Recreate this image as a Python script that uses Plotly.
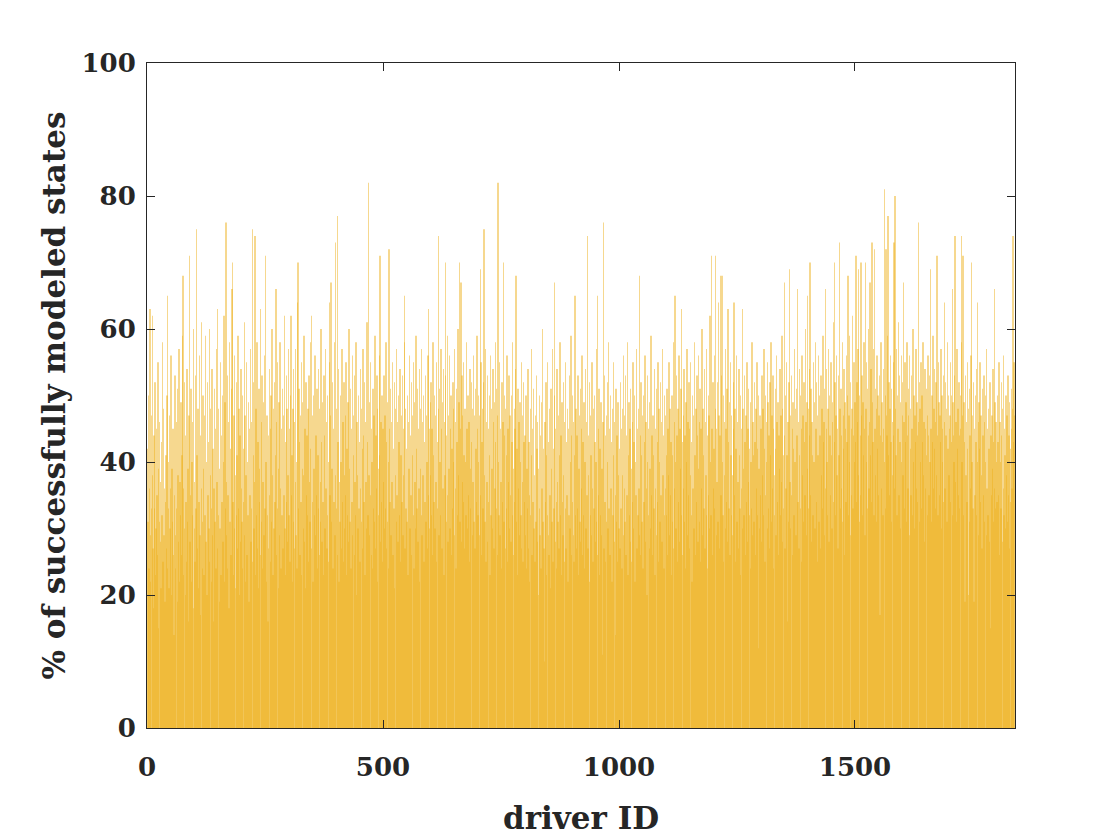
import plotly.graph_objects as go

# % of successfully modeled states, one value per driver (blocks of 100 drivers)
pct_0001_0100 = [42, 31, 50, 24, 36, 63, 29, 22, 47, 33, 38, 62, 27, 18, 44, 33, 52, 23, 30, 45,
                 35, 26, 55, 39, 15, 31, 46, 28, 37, 21, 43, 32, 58, 25, 48, 29, 36, 19, 34, 41,
                 27, 50, 65, 24, 33, 40, 21, 47, 30, 36, 56, 20, 39, 31, 45, 26, 14, 35, 53, 29,
                 24, 46, 33, 51, 19, 38, 28, 57, 22, 37, 32, 49, 26, 41, 59, 68, 23, 36, 30, 52,
                 20, 44, 34, 25, 54, 31, 39, 16, 47, 71, 28, 35, 51, 22, 40, 32, 46, 18, 60, 30]
pct_0101_0200 = [37, 25, 53, 33, 75, 41, 27, 48, 21, 34, 56, 29, 44, 17, 36, 61, 31, 24, 50, 39,
                 23, 47, 32, 59, 28, 40, 20, 52, 35, 43, 30, 60, 25, 38, 48, 22, 33, 54, 29, 42,
                 16, 36, 51, 31, 45, 24, 57, 37, 27, 63, 32, 48, 19, 39, 30, 55, 23, 44, 34, 50,
                 28, 40, 62, 22, 49, 33, 76, 29, 37, 24, 53, 35, 46, 18, 58, 31, 42, 26, 51, 66,
                 70, 34, 23, 47, 30, 56, 38, 21, 52, 32, 41, 27, 59, 33, 48, 20, 44, 28, 54, 36]
pct_0201_0300 = [31, 50, 24, 42, 34, 61, 29, 47, 22, 38, 55, 26, 40, 32, 49, 19, 45, 35, 57, 28,
                 46, 33, 75, 25, 41, 52, 30, 37, 74, 23, 48, 32, 58, 27, 43, 21, 51, 34, 39, 63,
                 26, 46, 31, 53, 24, 37, 49, 29, 56, 33, 71, 40, 22, 47, 32, 16, 44, 27, 54, 35,
                 45, 25, 50, 31, 60, 38, 23, 48, 30, 52, 34, 41, 66, 26, 46, 33, 55, 21, 39, 49,
                 29, 58, 36, 24, 45, 32, 51, 27, 47, 35, 62, 30, 43, 23, 53, 34, 48, 28, 38, 57]
pct_0301_0400 = [32, 45, 25, 50, 62, 35, 41, 22, 48, 31, 54, 27, 46, 37, 57, 29, 40, 24, 64, 70,
                 33, 51, 43, 26, 47, 34, 55, 23, 39, 49, 30, 38, 59, 28, 45, 21, 52, 35, 44, 32,
                 48, 25, 53, 37, 31, 58, 42, 27, 62, 34, 47, 22, 50, 39, 32, 56, 29, 44, 35, 51,
                 24, 41, 33, 54, 26, 48, 37, 31, 60, 43, 28, 49, 34, 23, 53, 44, 30, 57, 36, 46,
                 27, 50, 32, 40, 25, 55, 64, 35, 47, 67, 31, 39, 52, 24, 45, 34, 58, 29, 38, 73]
pct_0401_0500 = [33, 48, 77, 26, 43, 54, 22, 37, 31, 50, 40, 27, 57, 34, 46, 25, 52, 38, 30, 47,
                 35, 55, 23, 42, 32, 49, 28, 60, 39, 31, 51, 24, 45, 34, 56, 29, 41, 47, 26, 53,
                 37, 32, 58, 20, 46, 38, 30, 50, 33, 43, 25, 54, 36, 48, 31, 42, 27, 57, 44, 34,
                 52, 23, 46, 37, 30, 61, 43, 32, 82, 38, 29, 49, 35, 55, 26, 45, 40, 24, 51, 33,
                 47, 31, 59, 27, 44, 36, 53, 22, 48, 39, 32, 56, 41, 71, 28, 46, 34, 50, 25, 45]
pct_0501_0600 = [37, 53, 30, 47, 33, 58, 27, 43, 49, 31, 40, 24, 72, 45, 34, 51, 29, 46, 37, 55,
                 26, 42, 33, 52, 21, 48, 38, 31, 57, 35, 46, 28, 50, 43, 32, 54, 25, 41, 47, 34,
                 53, 29, 45, 38, 58, 65, 27, 48, 33, 42, 31, 50, 23, 46, 39, 56, 30, 44, 35, 52,
                 26, 47, 41, 32, 55, 24, 49, 37, 30, 59, 42, 33, 51, 28, 45, 36, 54, 22, 48, 39,
                 32, 57, 29, 46, 38, 50, 25, 43, 34, 53, 31, 47, 40, 27, 56, 63, 35, 45, 30, 49]
pct_0601_0700 = [38, 52, 32, 45, 26, 58, 41, 34, 50, 30, 47, 37, 55, 25, 43, 33, 74, 48, 29, 51,
                 40, 32, 57, 45, 27, 49, 36, 54, 23, 46, 38, 53, 70, 31, 44, 35, 59, 28, 47, 39,
                 56, 30, 45, 50, 26, 42, 33, 52, 40, 48, 29, 57, 36, 46, 24, 51, 43, 32, 60, 38,
                 49, 70, 31, 45, 67, 28, 53, 37, 47, 34, 55, 41, 27, 48, 40, 32, 58, 45, 30, 50,
                 35, 46, 25, 54, 39, 33, 52, 43, 29, 48, 37, 56, 31, 47, 27, 51, 42, 34, 59, 45]
pct_0701_0800 = [32, 50, 40, 29, 47, 69, 35, 55, 26, 43, 48, 33, 52, 75, 38, 31, 57, 25, 46, 37,
                 53, 28, 45, 34, 50, 41, 23, 56, 32, 48, 39, 30, 54, 46, 27, 49, 36, 58, 43, 33,
                 51, 26, 47, 82, 40, 32, 55, 29, 45, 37, 24, 52, 34, 46, 70, 31, 44, 50, 27, 48,
                 41, 33, 56, 25, 45, 37, 53, 30, 47, 35, 28, 50, 43, 32, 58, 39, 26, 48, 34, 45,
                 54, 68, 31, 42, 23, 51, 36, 46, 29, 49, 40, 32, 55, 27, 47, 37, 25, 52, 43, 34]
pct_0801_0900 = [44, 29, 50, 24, 39, 33, 54, 27, 43, 35, 22, 48, 32, 41, 57, 26, 45, 34, 51, 30,
                 38, 25, 47, 31, 53, 42, 28, 46, 20, 39, 33, 50, 29, 44, 24, 49, 36, 60, 31, 42,
                 27, 10, 46, 34, 52, 23, 41, 32, 55, 29, 43, 26, 48, 35, 21, 51, 39, 31, 57, 25,
                 42, 33, 50, 67, 28, 45, 34, 24, 54, 37, 31, 47, 27, 41, 58, 32, 44, 23, 49, 34,
                 29, 52, 38, 25, 46, 33, 55, 27, 43, 35, 48, 22, 45, 32, 53, 30, 40, 59, 26, 44]
pct_0901_1000 = [34, 50, 29, 46, 25, 41, 65, 32, 48, 27, 44, 33, 53, 23, 39, 47, 31, 51, 28, 45,
                 36, 56, 26, 43, 32, 49, 24, 40, 54, 30, 46, 35, 74, 27, 44, 38, 52, 22, 47, 32,
                 41, 29, 55, 36, 25, 48, 33, 50, 43, 28, 40, 57, 31, 65, 26, 45, 35, 51, 23, 42,
                 32, 49, 29, 39, 11, 46, 76, 27, 53, 34, 44, 25, 47, 31, 52, 40, 30, 58, 33, 45,
                 26, 50, 36, 43, 22, 48, 32, 55, 41, 28, 46, 35, 14, 51, 31, 44, 25, 49, 38, 30]
pct_1001_1100 = [42, 27, 52, 33, 45, 24, 48, 38, 56, 29, 36, 47, 31, 53, 26, 44, 35, 58, 23, 41,
                 49, 32, 45, 28, 51, 39, 25, 46, 34, 55, 30, 43, 50, 22, 40, 35, 57, 27, 45, 32,
                 48, 36, 68, 29, 44, 26, 52, 41, 31, 47, 24, 50, 34, 43, 56, 28, 46, 36, 20, 40,
                 53, 32, 45, 27, 49, 39, 30, 59, 35, 44, 26, 47, 41, 33, 54, 23, 45, 36, 51, 29,
                 43, 34, 55, 25, 48, 40, 31, 52, 35, 46, 28, 57, 38, 44, 24, 50, 32, 47, 36, 41]
pct_1101_1200 = [32, 51, 26, 45, 38, 55, 29, 48, 35, 43, 23, 50, 41, 31, 58, 27, 46, 36, 65, 40,
                 30, 53, 44, 25, 48, 34, 56, 28, 45, 39, 51, 32, 63, 43, 26, 47, 36, 54, 31, 44,
                 24, 49, 40, 57, 29, 46, 35, 52, 27, 45, 38, 55, 32, 43, 22, 50, 36, 47, 30, 58,
                 41, 26, 48, 34, 53, 44, 28, 56, 39, 46, 31, 51, 25, 45, 36, 60, 29, 48, 41, 33,
                 54, 27, 46, 38, 57, 32, 44, 24, 50, 35, 47, 30, 62, 40, 32, 71, 45, 26, 52, 36]
pct_1201_1300 = [42, 56, 33, 71, 48, 29, 45, 37, 52, 31, 64, 47, 27, 44, 68, 35, 53, 68, 40, 32,
                 50, 25, 46, 38, 57, 30, 45, 34, 51, 28, 63, 43, 33, 49, 26, 55, 41, 32, 47, 38,
                 29, 52, 45, 64, 35, 48, 25, 42, 56, 31, 46, 37, 27, 54, 41, 33, 50, 23, 45, 36,
                 63, 30, 48, 39, 32, 53, 43, 26, 47, 34, 55, 28, 45, 37, 51, 32, 42, 24, 49, 40,
                 33, 58, 29, 46, 41, 31, 52, 43, 26, 48, 36, 55, 32, 42, 12, 50, 39, 30, 47, 35]
pct_1301_1400 = [45, 28, 53, 38, 48, 32, 57, 42, 25, 50, 35, 46, 40, 55, 30, 49, 33, 44, 27, 52,
                 41, 58, 31, 47, 36, 53, 24, 45, 38, 32, 51, 42, 29, 56, 46, 34, 49, 26, 44, 39,
                 54, 32, 47, 37, 59, 28, 48, 41, 33, 67, 44, 27, 50, 36, 55, 41, 16, 46, 31, 52,
                 69, 37, 47, 30, 53, 35, 45, 26, 49, 42, 32, 57, 40, 48, 29, 51, 44, 66, 34, 46,
                 27, 54, 41, 33, 50, 45, 25, 56, 38, 47, 31, 52, 43, 35, 60, 46, 29, 49, 65, 39]
pct_1401_1500 = [48, 33, 54, 44, 70, 35, 51, 28, 46, 41, 32, 55, 40, 49, 30, 58, 45, 34, 52, 25,
                 47, 41, 56, 31, 50, 44, 27, 53, 38, 48, 33, 59, 43, 46, 29, 51, 66, 36, 45, 54,
                 40, 32, 48, 57, 28, 50, 44, 35, 55, 41, 30, 49, 46, 61, 34, 70, 43, 52, 32, 47,
                 56, 38, 45, 27, 53, 41, 73, 48, 33, 51, 44, 36, 58, 31, 47, 42, 54, 26, 49, 45,
                 34, 56, 43, 50, 68, 32, 47, 40, 59, 29, 52, 45, 35, 48, 62, 33, 44, 55, 40, 49]
pct_1501_1600 = [43, 71, 34, 52, 46, 57, 38, 69, 31, 50, 44, 35, 70, 47, 53, 32, 49, 41, 58, 45,
                 29, 70, 48, 40, 55, 33, 51, 44, 60, 36, 46, 67, 41, 54, 34, 73, 49, 43, 57, 32,
                 72, 45, 51, 38, 48, 31, 56, 42, 50, 35, 47, 53, 17, 44, 58, 36, 49, 43, 32, 54,
                 45, 81, 40, 50, 33, 72, 47, 44, 59, 77, 41, 52, 35, 48, 56, 43, 31, 51, 46, 38,
                 55, 44, 73, 36, 80, 48, 41, 57, 32, 50, 45, 61, 35, 53, 43, 49, 30, 56, 40, 47]
pct_1601_1700 = [52, 38, 67, 46, 33, 55, 43, 49, 31, 58, 44, 36, 51, 47, 29, 56, 42, 48, 35, 53,
                 45, 32, 60, 40, 50, 30, 47, 43, 57, 36, 49, 44, 34, 76, 46, 52, 31, 48, 40, 55,
                 33, 50, 43, 58, 38, 46, 28, 54, 45, 36, 51, 41, 47, 32, 56, 44, 35, 53, 40, 69,
                 45, 31, 50, 43, 59, 36, 48, 42, 54, 33, 46, 52, 38, 71, 44, 32, 55, 49, 35, 47,
                 43, 57, 30, 50, 45, 40, 53, 34, 64, 46, 36, 52, 44, 48, 31, 58, 42, 50, 38, 45]
pct_1701_1800 = [47, 34, 55, 43, 50, 66, 32, 49, 44, 40, 53, 74, 37, 46, 31, 57, 42, 48, 35, 52,
                 44, 33, 50, 45, 58, 74, 40, 47, 71, 32, 49, 43, 19, 53, 38, 46, 34, 55, 42, 20,
                 48, 31, 51, 44, 36, 56, 70, 40, 47, 33, 52, 19, 45, 35, 50, 43, 32, 54, 64, 40,
                 46, 29, 49, 42, 55, 34, 47, 38, 27, 51, 44, 35, 53, 31, 46, 40, 50, 29, 57, 36,
                 45, 32, 48, 42, 28, 52, 15, 44, 35, 47, 39, 54, 31, 43, 66, 36, 49, 33, 46, 40]
pct_1801_1838 = [34, 50, 43, 35, 55, 26, 46, 40, 33, 52, 44, 28, 48, 36, 56, 32, 45, 41, 30, 50,
                 38, 47, 31, 53, 35, 44, 27, 49, 42, 34, 51, 45, 36, 48, 74, 43, 55, 47]

pct_success = (pct_0001_0100 + pct_0101_0200 + pct_0201_0300 + pct_0301_0400 + pct_0401_0500
               + pct_0501_0600 + pct_0601_0700 + pct_0701_0800 + pct_0801_0900 + pct_0901_1000
               + pct_1001_1100 + pct_1101_1200 + pct_1201_1300 + pct_1301_1400 + pct_1401_1500
               + pct_1501_1600 + pct_1601_1700 + pct_1701_1800 + pct_1801_1838)
driver_id = list(range(1, len(pct_success) + 1))

x_ticks = [0, 500, 1000, 1500]
y_ticks = [0, 20, 40, 60, 80, 100]

FONT = "DejaVu Serif"
INK = "#262626"

fig = go.Figure()
# opaque colour -> plotly widens sub-pixel bars to 1px; trace opacity softens the overlap
fig.add_trace(go.Bar(
    x=driver_id, y=pct_success,
    marker=dict(color="#EDB120", opacity=0.5, line=dict(width=0)),
    hoverinfo="x+y",
))

axis_common = dict(
    showline=True, linecolor=INK, linewidth=1, mirror="ticks",
    ticks="inside", ticklen=8, tickcolor=INK, tickwidth=1,
    showgrid=False, zeroline=False,
    tickfont=dict(family=FONT, size=26, color=INK, weight="bold"),
)

fig.update_layout(
    width=1120, height=840,
    margin=dict(l=139, r=113, t=55, b=120),
    paper_bgcolor="white", plot_bgcolor="white",
    bargap=0.2, showlegend=False,
    xaxis=dict(
        range=[0, 1839], tickvals=x_ticks, ticklabelstandoff=16,
        title=dict(text="driver ID", standoff=26,
                   font=dict(family=FONT, size=31, color=INK, weight="bold")),
        **axis_common,
    ),
    yaxis=dict(
        range=[0, 100], tickvals=y_ticks, ticklabelstandoff=5,
        title=dict(text="% of successfully modeled states", standoff=6,
                   font=dict(family=FONT, size=31, color=INK, weight="bold")),
        **axis_common,
    ),
)

fig.write_html("out.html")
